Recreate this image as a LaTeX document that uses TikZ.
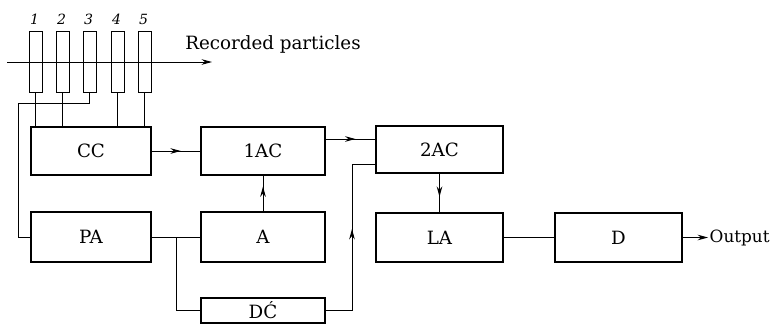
\documentclass[tikz,border=0pt]{standalone}
\usepackage{fontspec}
\setmainfont{DejaVu Serif}
\usetikzlibrary{arrows.meta,positioning,calc,decorations.markings}

\begin{document}
\begin{tikzpicture}[x=0.025cm,y=-0.025cm,>={Stealth[length=2.6mm,width=1.4mm]},
 blk/.style={draw,line width=1.3pt,minimum width=3.1cm,minimum height=1.2cm,inner sep=0pt,font=\fontsize{13}{15}\selectfont},
 ctr/.style={draw,line width=0.7pt,minimum width=0.325cm,minimum height=1.525cm,inner sep=0pt},
 wire/.style={line width=0.7pt},
 midarrow/.style={wire,decoration={markings,mark=at position #1 with {\arrow{>}}},postaction={decorate}},
 midarrow/.default=0.6]
 \useasboundingbox (0,0) rectangle (773,325);
 % counters
 \foreach \i/\x in {1/35.5,2/62.5,3/89.5,4/117.5,5/144.5} {
 \node[ctr] (c\i) at (\x,62) {};
 \node[font=\itshape] (n\i) at (\x-1,19) {\i};
 }
 \coordinate (trk0) at (7,62);
 \coordinate (trk1) at (212,62);
 \draw[wire,->] (trk0) -- (trk1);
 \node[font=\fontsize{13}{15}\selectfont] (rec) at (273,44) {Recorded particles};
 % blocks
 \node[blk,minimum width=3cm] (cc) at (91,151) {CC};
 \node[blk] (ac1) at (263,151) {1AC};
 \node[blk,minimum width=3.175cm,minimum height=1.175cm] (ac2) at (439.5,149.5) {2AC};
 \node[blk,minimum width=3cm,minimum height=1.25cm] (pa) at (91,237) {PA};
 \node[blk,minimum height=1.25cm] (a) at (263,237) {A};
 \node[blk,minimum width=3.175cm,minimum height=1.225cm] (la) at (439.5,237.5) {LA};
 \node[blk,minimum width=3.175cm,minimum height=1.225cm] (d) at (618.5,237.5) {D};
 \node[blk,minimum height=0.625cm] (dc) at (263,310.5) {DĆ};
 \node[font=\large,anchor=west,inner sep=1pt] (out) at (708,237.5) {Output};
 % wiring
 \foreach \i in {1,2,4,5} \draw[wire] (c\i.south) -- (c\i.south |- cc.north);
 \coordinate (k3) at (18,103);
 \draw[wire] (c3.south) |- (k3) |- (pa.west);
 \draw[midarrow] (cc.east) -- (ac1.west);
 \draw[midarrow] ([yshift=3mm]ac1.east) -- ([yshift=3mm]ac1.east -| ac2.west);
 \draw[midarrow=0.7] (a.north) -- (ac1.south);
 \draw[wire] (pa.east) -- (a.west);
 \coordinate (br) at ($(pa.east)!0.5!(a.west)$);
 \draw[wire] (br) |- (dc.west);
 \coordinate (kup) at (352,164);
 \draw[midarrow=0.55] (dc.east) -| (kup) -- (kup -| ac2.west);
 \draw[midarrow] (ac2.south) -- (la.north);
 \draw[wire] (la.east) -- (d.west);
 \draw[wire,->] (d.east) -- (out.west);
\end{tikzpicture}
\end{document}
